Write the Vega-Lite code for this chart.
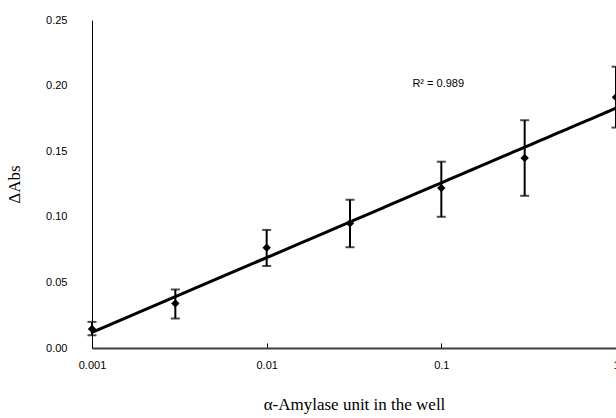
{
  "$schema": "https://vega.github.io/schema/vega-lite/v6.json",
  "autosize": "none",
  "width": 524,
  "height": 328,
  "padding": {"left": 92, "top": 20, "right": 0, "bottom": 70},
  "background": "white",
  "config": {"view": {"stroke": null}},
  "datasets": {
    "pts": [
      {"x": 0.001, "y": 0.0145, "lo": 0.0097, "hi": 0.0199},
      {"x": 0.003, "y": 0.034, "lo": 0.0225, "hi": 0.0446},
      {"x": 0.01, "y": 0.0765, "lo": 0.0625, "hi": 0.090},
      {"x": 0.03, "y": 0.0951, "lo": 0.0768, "hi": 0.113},
      {"x": 0.1, "y": 0.1219, "lo": 0.100, "hi": 0.142},
      {"x": 0.3, "y": 0.1448, "lo": 0.116, "hi": 0.1736},
      {"x": 1, "y": 0.1911, "lo": 0.168, "hi": 0.2144}
    ],
    "note": [{"x": 0.0683, "y": 0.2016, "label": "R² = 0.989"}]
  },
  "encoding": {
    "x": {
      "field": "x", "type": "quantitative",
      "scale": {"type": "log", "domain": [0.001, 1], "nice": false},
      "axis": {
        "title": "α-Amylase unit in the well",
        "titleFont": "Liberation Serif", "titleFontSize": 17, "titleFontWeight": "normal",
        "titleColor": "black", "titlePadding": 26,
        "values": [0.001, 0.01, 0.1, 1], "format": "~g",
        "labelFont": "Liberation Sans", "labelFontSize": 11, "labelColor": "black",
        "labelPadding": 16, "labelFlush": false,
        "tickSize": -5, "tickColor": "black", "tickWidth": 1,
        "domainColor": "#404040", "domainWidth": 2, "grid": false
      }
    }
  },
  "layer": [
    {
      "data": {"name": "pts"},
      "transform": [{"regression": "y", "on": "x", "method": "log", "extent": [0.001, 1]}],
      "mark": {"type": "line", "color": "black", "strokeWidth": 3, "clip": true},
      "encoding": {
        "y": {
          "field": "y", "type": "quantitative",
          "scale": {"domain": [0, 0.25], "nice": false},
          "axis": {
            "title": "ΔAbs", "titleFont": "Liberation Serif", "titleFontSize": 17,
            "titleFontWeight": "normal", "titleColor": "black", "titlePadding": 22,
            "values": [0, 0.05, 0.1, 0.15, 0.2, 0.25], "format": ".2f",
            "labelFont": "Liberation Sans", "labelFontSize": 11, "labelColor": "black",
            "labelPadding": 25, "ticks": false, "tickSize": 0,
            "domainColor": "black", "domainWidth": 1, "grid": false
          }
        }
      }
    },
    {
      "data": {"name": "pts"},
      "mark": {"type": "rule", "color": "black", "strokeWidth": 2},
      "encoding": {"y": {"field": "lo", "type": "quantitative"}, "y2": {"field": "hi"}}
    },
    {
      "data": {"name": "pts"},
      "mark": {"type": "tick", "orient": "horizontal", "color": "black", "thickness": 2, "size": 9},
      "encoding": {"y": {"field": "lo", "type": "quantitative"}}
    },
    {
      "data": {"name": "pts"},
      "mark": {"type": "tick", "orient": "horizontal", "color": "black", "thickness": 2, "size": 9},
      "encoding": {"y": {"field": "hi", "type": "quantitative"}}
    },
    {
      "data": {"name": "pts"},
      "mark": {"type": "point", "shape": "diamond", "filled": true, "color": "black", "opacity": 1, "size": 70},
      "encoding": {"y": {"field": "y", "type": "quantitative"}}
    },
    {
      "data": {"name": "note"},
      "mark": {"type": "text", "align": "left", "baseline": "middle", "font": "Liberation Sans", "fontSize": 11, "color": "black"},
      "encoding": {"y": {"field": "y", "type": "quantitative"}, "text": {"field": "label"}}
    }
  ]
}
